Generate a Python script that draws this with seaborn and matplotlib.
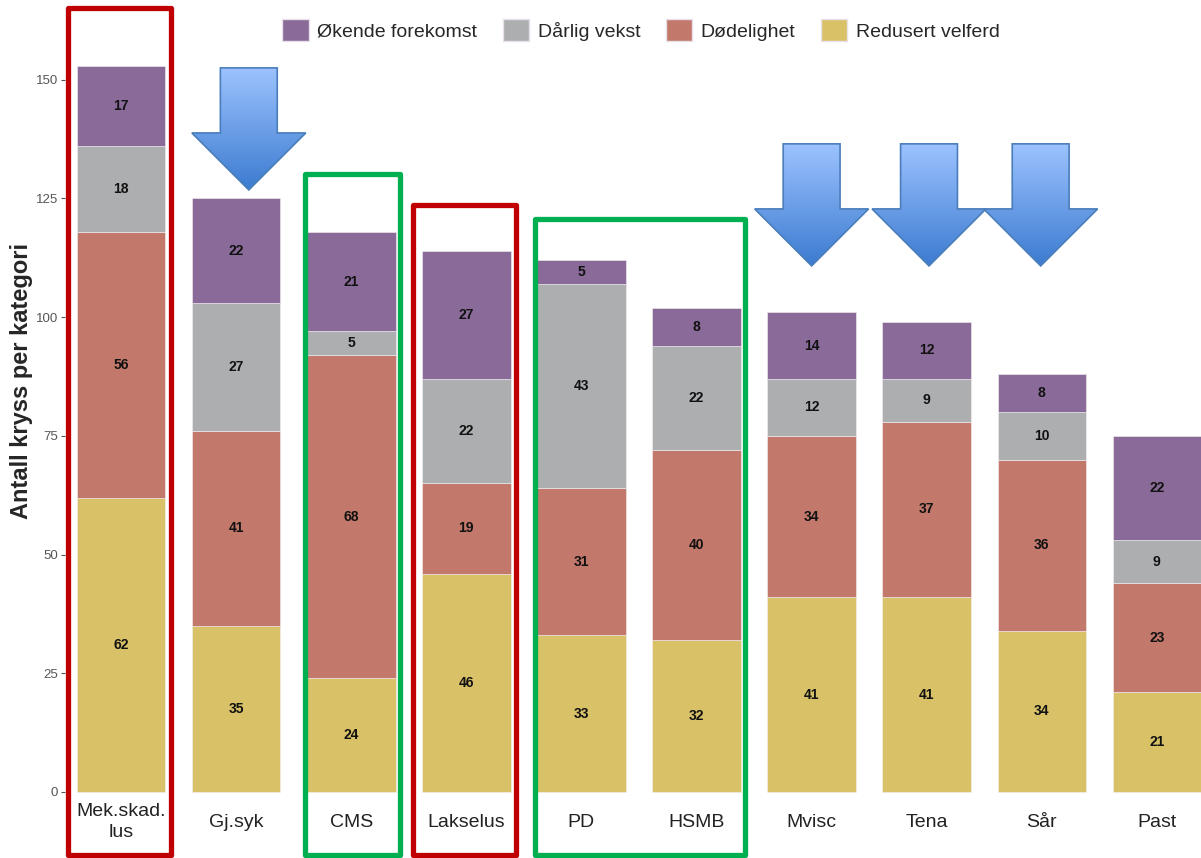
import numpy as np
import seaborn as sns
import matplotlib.pyplot as plt
from matplotlib.patches import Patch, Polygon, Rectangle

sns.set_theme(style="white")
plt.rcParams['font.family'] = ['Liberation Sans', 'DejaVu Sans']

categories = ["Mek.skad.\nlus", "Gj.syk", "CMS", "Lakselus", "PD", "HSMB",
              "Mvisc", "Tena", "Sår", "Past"]
redusert_velferd = [62, 35, 24, 46, 33, 32, 41, 41, 34, 21]
dodelighet = [56, 41, 68, 19, 31, 40, 34, 37, 36, 23]
darlig_vekst = [18, 27, 5, 22, 43, 22, 12, 9, 10, 9]
okende_forekomst = [17, 22, 21, 27, 5, 8, 14, 12, 8, 22]

layers = [
    ("Redusert velferd", redusert_velferd, "#D9C167"),
    ("Dødelighet", dodelighet, "#C2786A"),
    ("Dårlig vekst", darlig_vekst, "#ADAEB0"),
    ("Økende forekomst", okende_forekomst, "#896A98"),
]

# highlighted groups: (first bar, last bar, top of box)
red_boxes = [(0, 0, 165.2), (3, 3, 123.7)]
green_boxes = [(2, 2, 130.2), (4, 5, 120.7)]
# arrows: (bar position, tip height)
arrows = [(1.11, 126.8), (6.0, 110.8), (7.02, 110.8), (7.99, 110.8)]

fig = plt.figure(figsize=(12.01, 8.58), dpi=100)
ax = fig.add_axes([65 / 1201, 58 / 858, 1136 / 1201, 800 / 858])

bottom = np.zeros(len(categories))
for name, vals, col in layers:
    sns.barplot(x=categories, y=vals, bottom=bottom, color=col, width=0.77,
                saturation=1, edgecolor="#F4F0F4", linewidth=0.4, ax=ax)
    bottom += np.array(vals)

for cont in ax.containers:
    ax.bar_label(cont, label_type="center", fontsize=10, fontweight="bold",
                 color="#111111")

ax.set_yticks([0, 25, 50, 75, 100, 125, 150])
for s in ax.spines.values():
    s.set_visible(False)
ax.tick_params(axis="y", left=True, length=3, width=0.8, color="#555555",
               labelsize=9.5, labelcolor="#555555", pad=2)
ax.tick_params(axis="x", length=0, labelsize=14, labelcolor="#222222", pad=16)
for lab in ax.get_xticklabels():
    lab.set_va("center")
    lab.set_linespacing(1.3)
ax.set_xlabel("")
ax.set_ylabel("")
fig.text(22 / 1201, 1 - 381 / 858, "Antall kryss per kategori", rotation=90,
         ha="center", va="center", fontsize=17, fontweight="bold")

# coloured frames around groups of bars
for i0, i1, top in red_boxes:
    ax.add_patch(Rectangle((i0 - 0.46, -13.3), i1 - i0 + 0.89, top + 13.3,
                           fill=False, edgecolor="#C00000", linewidth=3.8,
                           joinstyle="round", clip_on=False, zorder=5))
for i0, i1, top in green_boxes:
    ax.add_patch(Rectangle((i0 - 0.4, -13.3), i1 - i0 + 0.82, top + 13.3,
                           fill=False, edgecolor="#00B050", linewidth=3.8,
                           joinstyle="round", clip_on=False, zorder=5))

# gradient arrows pointing down
grad = np.linspace(0, 1, 256).reshape(-1, 1)
cmap = sns.blend_palette(["#9DC3FF", "#3C7BD0"], as_cmap=True)
for xc, tip in arrows:
    hw, sw, h, hh = 0.495, 0.247, 25.7, 12.0
    pts = [(xc - sw, tip + h), (xc + sw, tip + h), (xc + sw, tip + hh),
           (xc + hw, tip + hh), (xc, tip), (xc - hw, tip + hh),
           (xc - sw, tip + hh)]
    poly = Polygon(pts, closed=True, facecolor="none", edgecolor="#4A7EBB",
                   linewidth=1.2, zorder=7, clip_on=False)
    ax.add_patch(poly)
    im = ax.imshow(grad, cmap=cmap, aspect="auto", zorder=6,
                   extent=(xc - hw, xc + hw, tip, tip + h), origin="upper")
    im.set_clip_path(poly)

ax.set_xlim(-0.487, 9.383)
ax.set_ylim(-1.69, 166.8)

handles = [Patch(facecolor=c, edgecolor="#E8E0EA", label=n)
           for n, _, c in reversed(layers)]
fig.legend(handles=handles, loc="upper center", ncol=4, frameon=False,
           bbox_to_anchor=(641 / 1201, 1 - 2 / 858), fontsize=14,
           handlelength=1.35, handleheight=1.35, handletextpad=0.45,
           columnspacing=1.3)

fig.savefig("out.png", dpi=100)
